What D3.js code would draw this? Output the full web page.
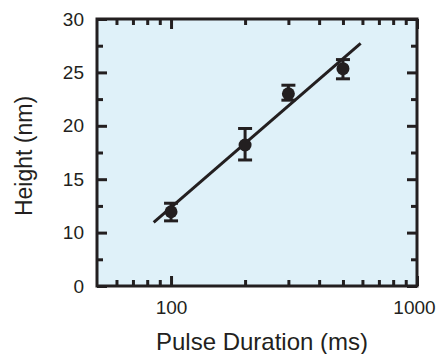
<!DOCTYPE html>
<html>
<head>
<meta charset="utf-8">
<script src="https://cdn.jsdelivr.net/npm/d3@7"></script>
<style>
  body { margin: 0; background: #fff; }
  svg text { font-family: "Liberation Sans", Arial, sans-serif; fill: #231f20; }
</style>
</head>
<body>
<svg id="chart" width="437" height="354"></svg>
<script>
// measured points
const durations = [100, 200, 300, 500];
const heights = [11.95, 18.2, 23.0, 25.35];
const errLow = [11.1, 16.8, 22.4, 24.4];
const errHigh = [12.75, 19.75, 23.8, 26.2];

// fitted line end points
const fitX = [85, 590];
const fitY = [10.96, 27.72];

// ticks
const xMajor = [100, 1000];
const xMinor = [60, 70, 80, 90, 200, 300, 400, 500, 600, 700, 800, 900];
const yMajor = [5, 10, 15, 20, 25, 30];
const yTickLabels = ["0", "10", "15", "20", "25", "30"];
const yMinor = [7.5, 12.5, 17.5, 22.5, 27.5];

const ink = "#231f20";
const svg = d3.select("#chart");
const pLeft = 97, pRight = 417, pTop = 19, pBottom = 286;

const x = d3.scaleLog().domain([50, 1000]).range([pLeft, pRight]);
const y = d3.scaleLinear().domain([5, 30]).range([pBottom, pTop]);

// plot background
svg.append("rect")
  .attr("x", pLeft).attr("y", pTop)
  .attr("width", pRight - pLeft).attr("height", pBottom - pTop)
  .attr("fill", "#dff1f9");

function styleAxis(g) {
  g.select(".domain").remove();
  g.selectAll(".tick line").attr("stroke", ink).attr("stroke-width", 3);
  g.selectAll("text").style("font-size", "19px").attr("fill", ink);
}

// bottom
const xLabels = svg.append("g").attr("transform", `translate(0,${pBottom})`)
  .call(d3.axisBottom(x).tickValues(xMajor).tickSize(-10).tickPadding(15).tickFormat(d3.format("d")))
  .call(styleAxis);
// keep "1000" inside the picture
xLabels.selectAll("text").filter(d => d === 1000).attr("dx", -3);
svg.append("g").attr("transform", `translate(0,${pBottom})`)
  .call(d3.axisBottom(x).tickValues(xMinor).tickSize(-6).tickFormat(""))
  .call(styleAxis);
// top
svg.append("g").attr("transform", `translate(0,${pTop})`)
  .call(d3.axisTop(x).tickValues(xMajor).tickSize(-10).tickFormat(""))
  .call(styleAxis);
svg.append("g").attr("transform", `translate(0,${pTop})`)
  .call(d3.axisTop(x).tickValues(xMinor).tickSize(-6).tickFormat(""))
  .call(styleAxis);
// left
svg.append("g").attr("transform", `translate(${pLeft},0)`)
  .call(d3.axisLeft(y).tickValues(yMajor).tickSize(-10).tickPadding(13)
    .tickFormat((d, i) => yTickLabels[i]))
  .call(styleAxis);
svg.append("g").attr("transform", `translate(${pLeft},0)`)
  .call(d3.axisLeft(y).tickValues(yMinor).tickSize(-6).tickFormat(""))
  .call(styleAxis);
// right
svg.append("g").attr("transform", `translate(${pRight},0)`)
  .call(d3.axisRight(y).tickValues(yMajor).tickSize(-10).tickFormat(""))
  .call(styleAxis);
svg.append("g").attr("transform", `translate(${pRight},0)`)
  .call(d3.axisRight(y).tickValues(yMinor).tickSize(-6).tickFormat(""))
  .call(styleAxis);

// frame
svg.append("rect")
  .attr("x", pLeft).attr("y", pTop)
  .attr("width", pRight - pLeft).attr("height", pBottom - pTop)
  .attr("fill", "none").attr("stroke", ink).attr("stroke-width", 3);

// fit line
svg.append("line")
  .attr("x1", x(fitX[0])).attr("y1", y(fitY[0]))
  .attr("x2", x(fitX[1])).attr("y2", y(fitY[1]))
  .attr("stroke", ink).attr("stroke-width", 3);

// error bars and points
const pts = svg.append("g");
durations.forEach((d, i) => {
  const cx = x(d);
  pts.append("line")
    .attr("x1", cx).attr("x2", cx)
    .attr("y1", y(errLow[i])).attr("y2", y(errHigh[i]))
    .attr("stroke", ink).attr("stroke-width", 3);
  [errLow[i], errHigh[i]].forEach(v => {
    pts.append("line")
      .attr("x1", cx - 7).attr("x2", cx + 7)
      .attr("y1", y(v)).attr("y2", y(v))
      .attr("stroke", ink).attr("stroke-width", 3);
  });
  pts.append("circle")
    .attr("cx", cx).attr("cy", y(heights[i]))
    .attr("r", 6.5).attr("fill", ink);
});

// axis titles
svg.append("text")
  .attr("x", 262).attr("y", 350)
  .attr("text-anchor", "middle")
  .style("font-size", "24px")
  .text("Pulse Duration (ms)");

svg.append("text")
  .attr("transform", "translate(32,156) rotate(-90)")
  .attr("text-anchor", "middle")
  .style("font-size", "23px")
  .text("Height (nm)");
</script>
</body>
</html>
